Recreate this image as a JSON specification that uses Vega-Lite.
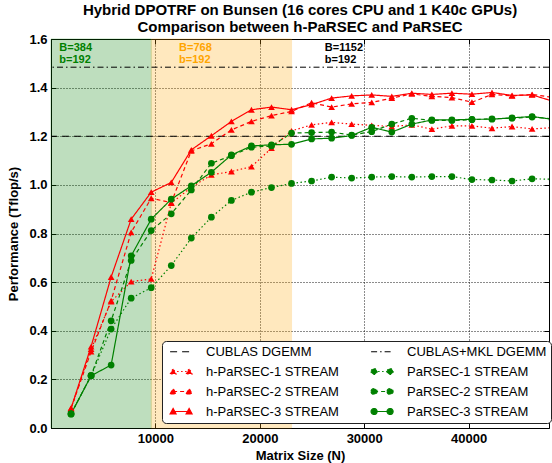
{
  "$schema": "https://vega.github.io/schema/vega-lite/v6.json",
  "width": 498,
  "height": 389,
  "autosize": {"type": "none"},
  "padding": {"left": 51, "top": 39, "right": 3, "bottom": 35},
  "background": "white",
  "title": {
    "text": ["Hybrid DPOTRF on Bunsen (16 cores CPU and 1 K40c GPUs)", "Comparison between h-PaRSEC and PaRSEC"],
    "fontSize": 15, "fontWeight": "bold", "font": "Liberation Sans", "lineHeight": 17,
    "offset": -2, "anchor": "middle", "color": "black"
  },
  "config": {
    "font": "Liberation Sans",
    "view": {"stroke": "black", "strokeWidth": 1},
    "axis": {
      "domainColor": "black", "tickColor": "black", "labelColor": "black", "titleColor": "black",
      "labelFont": "Liberation Sans", "labelFontSize": 13, "labelFontWeight": "bold",
      "titleFont": "Liberation Sans", "titleFontSize": 13, "titleFontWeight": "bold",
      "gridColor": "black", "gridDash": [1, 2], "gridWidth": 1, "gridOpacity": 0.9,
      "tickSize": -5
    }
  },
  "datasets": {
    "perf": [
      {"s": "h-PaRSEC-1 STREAM", "N": 1920, "p": 0.081}, {"s": "h-PaRSEC-1 STREAM", "N": 3840, "p": 0.325}, {"s": "h-PaRSEC-1 STREAM", "N": 5760, "p": 0.52}, {"s": "h-PaRSEC-1 STREAM", "N": 7680, "p": 0.602}, {"s": "h-PaRSEC-1 STREAM", "N": 9600, "p": 0.613}, {"s": "h-PaRSEC-1 STREAM", "N": 11520, "p": 0.925}, {"s": "h-PaRSEC-1 STREAM", "N": 13440, "p": 0.99}, {"s": "h-PaRSEC-1 STREAM", "N": 15360, "p": 1.041}, {"s": "h-PaRSEC-1 STREAM", "N": 17280, "p": 1.055}, {"s": "h-PaRSEC-1 STREAM", "N": 19200, "p": 1.075}, {"s": "h-PaRSEC-1 STREAM", "N": 21120, "p": 1.151}, {"s": "h-PaRSEC-1 STREAM", "N": 23040, "p": 1.222}, {"s": "h-PaRSEC-1 STREAM", "N": 24960, "p": 1.247}, {"s": "h-PaRSEC-1 STREAM", "N": 26880, "p": 1.257}, {"s": "h-PaRSEC-1 STREAM", "N": 28800, "p": 1.25}, {"s": "h-PaRSEC-1 STREAM", "N": 30720, "p": 1.245}, {"s": "h-PaRSEC-1 STREAM", "N": 32640, "p": 1.24}, {"s": "h-PaRSEC-1 STREAM", "N": 34560, "p": 1.247}, {"s": "h-PaRSEC-1 STREAM", "N": 36480, "p": 1.229}, {"s": "h-PaRSEC-1 STREAM", "N": 38400, "p": 1.243}, {"s": "h-PaRSEC-1 STREAM", "N": 40320, "p": 1.243}, {"s": "h-PaRSEC-1 STREAM", "N": 42240, "p": 1.233}, {"s": "h-PaRSEC-1 STREAM", "N": 44160, "p": 1.24}, {"s": "h-PaRSEC-1 STREAM", "N": 46080, "p": 1.23}, {"s": "h-PaRSEC-1 STREAM", "N": 48000, "p": 1.235},
      {"s": "h-PaRSEC-2 STREAM", "N": 1920, "p": 0.081}, {"s": "h-PaRSEC-2 STREAM", "N": 3840, "p": 0.314}, {"s": "h-PaRSEC-2 STREAM", "N": 5760, "p": 0.524}, {"s": "h-PaRSEC-2 STREAM", "N": 7680, "p": 0.805}, {"s": "h-PaRSEC-2 STREAM", "N": 9600, "p": 0.945}, {"s": "h-PaRSEC-2 STREAM", "N": 11520, "p": 0.927}, {"s": "h-PaRSEC-2 STREAM", "N": 13440, "p": 1.14}, {"s": "h-PaRSEC-2 STREAM", "N": 15360, "p": 1.169}, {"s": "h-PaRSEC-2 STREAM", "N": 17280, "p": 1.226}, {"s": "h-PaRSEC-2 STREAM", "N": 19200, "p": 1.261}, {"s": "h-PaRSEC-2 STREAM", "N": 21120, "p": 1.285}, {"s": "h-PaRSEC-2 STREAM", "N": 23040, "p": 1.302}, {"s": "h-PaRSEC-2 STREAM", "N": 24960, "p": 1.338}, {"s": "h-PaRSEC-2 STREAM", "N": 26880, "p": 1.32}, {"s": "h-PaRSEC-2 STREAM", "N": 28800, "p": 1.333}, {"s": "h-PaRSEC-2 STREAM", "N": 30720, "p": 1.339}, {"s": "h-PaRSEC-2 STREAM", "N": 32640, "p": 1.357}, {"s": "h-PaRSEC-2 STREAM", "N": 34560, "p": 1.374}, {"s": "h-PaRSEC-2 STREAM", "N": 36480, "p": 1.364}, {"s": "h-PaRSEC-2 STREAM", "N": 38400, "p": 1.359}, {"s": "h-PaRSEC-2 STREAM", "N": 40320, "p": 1.34}, {"s": "h-PaRSEC-2 STREAM", "N": 42240, "p": 1.372}, {"s": "h-PaRSEC-2 STREAM", "N": 44160, "p": 1.366}, {"s": "h-PaRSEC-2 STREAM", "N": 46080, "p": 1.372}, {"s": "h-PaRSEC-2 STREAM", "N": 48000, "p": 1.36},
      {"s": "h-PaRSEC-3 STREAM", "N": 1920, "p": 0.081}, {"s": "h-PaRSEC-3 STREAM", "N": 3840, "p": 0.335}, {"s": "h-PaRSEC-3 STREAM", "N": 5760, "p": 0.621}, {"s": "h-PaRSEC-3 STREAM", "N": 7680, "p": 0.859}, {"s": "h-PaRSEC-3 STREAM", "N": 9600, "p": 0.97}, {"s": "h-PaRSEC-3 STREAM", "N": 11520, "p": 1.01}, {"s": "h-PaRSEC-3 STREAM", "N": 13440, "p": 1.144}, {"s": "h-PaRSEC-3 STREAM", "N": 15360, "p": 1.202}, {"s": "h-PaRSEC-3 STREAM", "N": 17280, "p": 1.261}, {"s": "h-PaRSEC-3 STREAM", "N": 19200, "p": 1.309}, {"s": "h-PaRSEC-3 STREAM", "N": 21120, "p": 1.32}, {"s": "h-PaRSEC-3 STREAM", "N": 23040, "p": 1.309}, {"s": "h-PaRSEC-3 STREAM", "N": 24960, "p": 1.33}, {"s": "h-PaRSEC-3 STREAM", "N": 26880, "p": 1.357}, {"s": "h-PaRSEC-3 STREAM", "N": 28800, "p": 1.366}, {"s": "h-PaRSEC-3 STREAM", "N": 30720, "p": 1.37}, {"s": "h-PaRSEC-3 STREAM", "N": 32640, "p": 1.364}, {"s": "h-PaRSEC-3 STREAM", "N": 34560, "p": 1.377}, {"s": "h-PaRSEC-3 STREAM", "N": 36480, "p": 1.372}, {"s": "h-PaRSEC-3 STREAM", "N": 38400, "p": 1.377}, {"s": "h-PaRSEC-3 STREAM", "N": 40320, "p": 1.373}, {"s": "h-PaRSEC-3 STREAM", "N": 42240, "p": 1.38}, {"s": "h-PaRSEC-3 STREAM", "N": 44160, "p": 1.368}, {"s": "h-PaRSEC-3 STREAM", "N": 46080, "p": 1.37}, {"s": "h-PaRSEC-3 STREAM", "N": 48000, "p": 1.345},
      {"s": "PaRSEC-1 STREAM", "N": 1920, "p": 0.058}, {"s": "PaRSEC-1 STREAM", "N": 3840, "p": 0.215}, {"s": "PaRSEC-1 STREAM", "N": 5760, "p": 0.407}, {"s": "PaRSEC-1 STREAM", "N": 7680, "p": 0.534}, {"s": "PaRSEC-1 STREAM", "N": 9600, "p": 0.577}, {"s": "PaRSEC-1 STREAM", "N": 11520, "p": 0.668}, {"s": "PaRSEC-1 STREAM", "N": 13440, "p": 0.781}, {"s": "PaRSEC-1 STREAM", "N": 15360, "p": 0.867}, {"s": "PaRSEC-1 STREAM", "N": 17280, "p": 0.936}, {"s": "PaRSEC-1 STREAM", "N": 19200, "p": 0.97}, {"s": "PaRSEC-1 STREAM", "N": 21120, "p": 0.989}, {"s": "PaRSEC-1 STREAM", "N": 23040, "p": 1.006}, {"s": "PaRSEC-1 STREAM", "N": 24960, "p": 1.016}, {"s": "PaRSEC-1 STREAM", "N": 26880, "p": 1.032}, {"s": "PaRSEC-1 STREAM", "N": 28800, "p": 1.028}, {"s": "PaRSEC-1 STREAM", "N": 30720, "p": 1.032}, {"s": "PaRSEC-1 STREAM", "N": 32640, "p": 1.034}, {"s": "PaRSEC-1 STREAM", "N": 34560, "p": 1.032}, {"s": "PaRSEC-1 STREAM", "N": 36480, "p": 1.034}, {"s": "PaRSEC-1 STREAM", "N": 38400, "p": 1.034}, {"s": "PaRSEC-1 STREAM", "N": 40320, "p": 1.022}, {"s": "PaRSEC-1 STREAM", "N": 42240, "p": 1.02}, {"s": "PaRSEC-1 STREAM", "N": 44160, "p": 1.016}, {"s": "PaRSEC-1 STREAM", "N": 46080, "p": 1.025}, {"s": "PaRSEC-1 STREAM", "N": 48000, "p": 1.023},
      {"s": "PaRSEC-2 STREAM", "N": 1920, "p": 0.058}, {"s": "PaRSEC-2 STREAM", "N": 3840, "p": 0.215}, {"s": "PaRSEC-2 STREAM", "N": 5760, "p": 0.441}, {"s": "PaRSEC-2 STREAM", "N": 7680, "p": 0.689}, {"s": "PaRSEC-2 STREAM", "N": 9600, "p": 0.812}, {"s": "PaRSEC-2 STREAM", "N": 11520, "p": 0.881}, {"s": "PaRSEC-2 STREAM", "N": 13440, "p": 0.979}, {"s": "PaRSEC-2 STREAM", "N": 15360, "p": 1.089}, {"s": "PaRSEC-2 STREAM", "N": 17280, "p": 1.12}, {"s": "PaRSEC-2 STREAM", "N": 19200, "p": 1.155}, {"s": "PaRSEC-2 STREAM", "N": 21120, "p": 1.16}, {"s": "PaRSEC-2 STREAM", "N": 23040, "p": 1.213}, {"s": "PaRSEC-2 STREAM", "N": 24960, "p": 1.215}, {"s": "PaRSEC-2 STREAM", "N": 26880, "p": 1.217}, {"s": "PaRSEC-2 STREAM", "N": 28800, "p": 1.205}, {"s": "PaRSEC-2 STREAM", "N": 30720, "p": 1.219}, {"s": "PaRSEC-2 STREAM", "N": 32640, "p": 1.25}, {"s": "PaRSEC-2 STREAM", "N": 34560, "p": 1.274}, {"s": "PaRSEC-2 STREAM", "N": 36480, "p": 1.265}, {"s": "PaRSEC-2 STREAM", "N": 38400, "p": 1.265}, {"s": "PaRSEC-2 STREAM", "N": 40320, "p": 1.268}, {"s": "PaRSEC-2 STREAM", "N": 42240, "p": 1.272}, {"s": "PaRSEC-2 STREAM", "N": 44160, "p": 1.274}, {"s": "PaRSEC-2 STREAM", "N": 46080, "p": 1.279}, {"s": "PaRSEC-2 STREAM", "N": 48000, "p": 1.272},
      {"s": "PaRSEC-3 STREAM", "N": 1920, "p": 0.058}, {"s": "PaRSEC-3 STREAM", "N": 3840, "p": 0.215}, {"s": "PaRSEC-3 STREAM", "N": 5760, "p": 0.259}, {"s": "PaRSEC-3 STREAM", "N": 7680, "p": 0.708}, {"s": "PaRSEC-3 STREAM", "N": 9600, "p": 0.859}, {"s": "PaRSEC-3 STREAM", "N": 11520, "p": 0.941}, {"s": "PaRSEC-3 STREAM", "N": 13440, "p": 0.996}, {"s": "PaRSEC-3 STREAM", "N": 15360, "p": 1.052}, {"s": "PaRSEC-3 STREAM", "N": 17280, "p": 1.123}, {"s": "PaRSEC-3 STREAM", "N": 19200, "p": 1.16}, {"s": "PaRSEC-3 STREAM", "N": 21120, "p": 1.165}, {"s": "PaRSEC-3 STREAM", "N": 23040, "p": 1.167}, {"s": "PaRSEC-3 STREAM", "N": 24960, "p": 1.189}, {"s": "PaRSEC-3 STREAM", "N": 26880, "p": 1.192}, {"s": "PaRSEC-3 STREAM", "N": 28800, "p": 1.203}, {"s": "PaRSEC-3 STREAM", "N": 30720, "p": 1.237}, {"s": "PaRSEC-3 STREAM", "N": 32640, "p": 1.217}, {"s": "PaRSEC-3 STREAM", "N": 34560, "p": 1.25}, {"s": "PaRSEC-3 STREAM", "N": 36480, "p": 1.267}, {"s": "PaRSEC-3 STREAM", "N": 38400, "p": 1.267}, {"s": "PaRSEC-3 STREAM", "N": 40320, "p": 1.27}, {"s": "PaRSEC-3 STREAM", "N": 42240, "p": 1.27}, {"s": "PaRSEC-3 STREAM", "N": 44160, "p": 1.276}, {"s": "PaRSEC-3 STREAM", "N": 46080, "p": 1.281}, {"s": "PaRSEC-3 STREAM", "N": 48000, "p": 1.27}
    ],
    "peaks": [
      {"s": "CUBLAS DGEMM", "p": 1.2},
      {"s": "CUBLAS+MKL DGEMM", "p": 1.484}
    ],
    "regions": [
      {"region": "B=384", "start": 0, "end": 9600},
      {"region": "B=768", "start": 9600, "end": 23040}
    ],
    "notes": [
      {"region": "B=384", "label": "B=384", "N": 793, "p": 1.552},
      {"region": "B=384", "label": "b=192", "N": 793, "p": 1.5},
      {"region": "B=768", "label": "B=768", "N": 12265, "p": 1.552},
      {"region": "B=768", "label": "b=192", "N": 12265, "p": 1.5},
      {"region": "B=1152", "label": "B=1152", "N": 26222, "p": 1.552},
      {"region": "B=1152", "label": "b=192", "N": 26222, "p": 1.5}
    ]
  },
  "resolve": {"axis": {"x": "independent", "y": "independent"}},
  "layer": [
    {
      "data": {"name": "regions"},
      "mark": {"type": "rect", "opacity": 0.25, "strokeWidth": 1},
      "encoding": {
        "x": {"field": "start", "type": "quantitative", "scale": {"domain": [0, 47700], "nice": false, "zero": false}, "axis": null},
        "x2": {"field": "end"},
        "fill": {"field": "region", "type": "nominal", "scale": {"domain": ["B=384", "B=768", "B=1152"], "range": ["green", "orange", "black"]}, "legend": null},
        "stroke": {"field": "region", "type": "nominal", "scale": {"domain": ["B=384", "B=768", "B=1152"], "range": ["green", "orange", "black"]}, "legend": null}
      }
    },
    {
      "data": {"name": "peaks"},
      "mark": {"type": "rule", "strokeWidth": 1},
      "encoding": {
        "y": {"field": "p", "type": "quantitative", "axis": null},
        "color": {"field": "s", "type": "nominal"},
        "strokeDash": {"field": "s", "type": "nominal"}
      }
    },
    {
      "data": {"name": "perf"},
      "mark": {"type": "line", "strokeWidth": 1.2, "clip": true},
      "encoding": {
        "x": {
          "field": "N", "type": "quantitative",
          "scale": {"domain": [0, 47700], "nice": false, "zero": false},
          "axis": {"values": [10000, 20000, 30000, 40000], "format": "d", "grid": true, "title": "Matrix Size (N)", "labelPadding": 9, "titlePadding": 4}
        },
        "y": {
          "field": "p", "type": "quantitative",
          "scale": {"domain": [0, 1.6], "nice": false},
          "axis": {"values": [0, 0.2, 0.4, 0.6, 0.8, 1.0, 1.2, 1.4, 1.6], "format": ".1f", "grid": true, "title": "Performance (Tflop/s)", "labelPadding": 9, "titlePadding": 8}
        },
        "order": {"field": "N", "type": "quantitative"},
        "color": {
          "field": "s", "type": "nominal",
          "scale": {
            "domain": ["CUBLAS DGEMM", "h-PaRSEC-1 STREAM", "h-PaRSEC-2 STREAM", "h-PaRSEC-3 STREAM", "CUBLAS+MKL DGEMM", "PaRSEC-1 STREAM", "PaRSEC-2 STREAM", "PaRSEC-3 STREAM"],
            "range": ["black", "red", "red", "red", "black", "green", "green", "green"]
          },
          "legend": {
            "title": null, "columns": 2, "orient": "none", "legendX": 111, "legendY": 302,
            "symbolSize": 100, "labelFont": "Liberation Sans", "labelFontSize": 13, "labelColor": "black",
            "labelOffset": 27, "rowPadding": 6, "columnPadding": 28, "padding": 4,
            "strokeColor": "#222222", "fillColor": "white", "cornerRadius": 4,
            "encode": {
              "symbols": {
                "update": {
                  "shape": {"signal": "(datum.value==='CUBLAS DGEMM' || datum.value==='CUBLAS+MKL DGEMM') ? 'M-0.48,0H3.92' : (datum.value==='h-PaRSEC-1 STREAM' || datum.value==='h-PaRSEC-2 STREAM' || datum.value==='h-PaRSEC-3 STREAM') ? 'M0.12,0H3.32M-0.48,0.5L0.12,-0.6L0.72,0.5ZM2.72,0.5L3.32,-0.6L3.92,0.5Z' : 'M0.12,0H3.32M-0.48,0A0.6,0.6 0 1,0 0.72,0A0.6,0.6 0 1,0 -0.48,0ZM2.72,0A0.6,0.6 0 1,0 3.92,0A0.6,0.6 0 1,0 2.72,0Z'"},
                  "fill": {"signal": "(datum.value==='CUBLAS DGEMM' || datum.value==='CUBLAS+MKL DGEMM') ? 'transparent' : (datum.value==='h-PaRSEC-1 STREAM' || datum.value==='h-PaRSEC-2 STREAM' || datum.value==='h-PaRSEC-3 STREAM') ? 'red' : 'green'"},
                  "stroke": {"signal": "(datum.value==='CUBLAS DGEMM' || datum.value==='CUBLAS+MKL DGEMM') ? 'black' : (datum.value==='h-PaRSEC-1 STREAM' || datum.value==='h-PaRSEC-2 STREAM' || datum.value==='h-PaRSEC-3 STREAM') ? 'red' : 'green'"},
                  "strokeDash": {"signal": "datum.value==='CUBLAS DGEMM' ? [6,8] : datum.value==='CUBLAS+MKL DGEMM' ? [4,4,1.5,4] : (datum.value==='h-PaRSEC-1 STREAM' || datum.value==='PaRSEC-1 STREAM') ? [1.5,2.5] : (datum.value==='h-PaRSEC-2 STREAM' || datum.value==='PaRSEC-2 STREAM') ? [3,3] : [1,0]"},
                  "strokeWidth": {"value": 1.2},
                  "opacity": {"value": 1},
                  "fillOpacity": {"value": 1},
                  "strokeOpacity": {"value": 1}
                }
              }
            }
          }
        },
        "strokeDash": {
          "field": "s", "type": "nominal",
          "scale": {
            "domain": ["CUBLAS DGEMM", "h-PaRSEC-1 STREAM", "h-PaRSEC-2 STREAM", "h-PaRSEC-3 STREAM", "CUBLAS+MKL DGEMM", "PaRSEC-1 STREAM", "PaRSEC-2 STREAM", "PaRSEC-3 STREAM"],
            "range": [[7, 5], [1.5, 2.5], [4, 3], [1, 0], [6, 3, 1.5, 3], [1.5, 2.5], [4, 3], [1, 0]]
          },
          "legend": null
        }
      }
    },
    {
      "data": {"name": "perf"},
      "mark": {"type": "point", "filled": true, "size": 45, "opacity": 1, "clip": true},
      "encoding": {
        "x": {"field": "N", "type": "quantitative", "axis": null},
        "y": {"field": "p", "type": "quantitative", "axis": null},
        "color": {"field": "s", "type": "nominal"},
        "shape": {
          "field": "s", "type": "nominal",
          "scale": {
            "domain": ["h-PaRSEC-1 STREAM", "PaRSEC-1 STREAM", "h-PaRSEC-2 STREAM", "PaRSEC-2 STREAM", "h-PaRSEC-3 STREAM", "PaRSEC-3 STREAM"],
            "range": ["triangle-up", "circle", "triangle-up", "circle", "triangle-up", "circle"]
          },
          "legend": null
        }
      }
    },
    {
      "data": {"name": "notes"},
      "mark": {"type": "text", "align": "left", "baseline": "alphabetic", "font": "Liberation Sans", "fontSize": 11, "fontWeight": "bold"},
      "encoding": {
        "x": {"field": "N", "type": "quantitative", "axis": {"orient": "top", "values": [10000, 20000, 30000, 40000], "labels": false, "title": null, "grid": false, "domain": false}},
        "y": {"field": "p", "type": "quantitative", "axis": {"orient": "right", "values": [0.2, 0.4, 0.6, 0.8, 1.0, 1.2, 1.4], "labels": false, "title": null, "grid": false, "domain": false}},
        "text": {"field": "label"},
        "fill": {"field": "region", "type": "nominal"}
      }
    }
  ]
}
